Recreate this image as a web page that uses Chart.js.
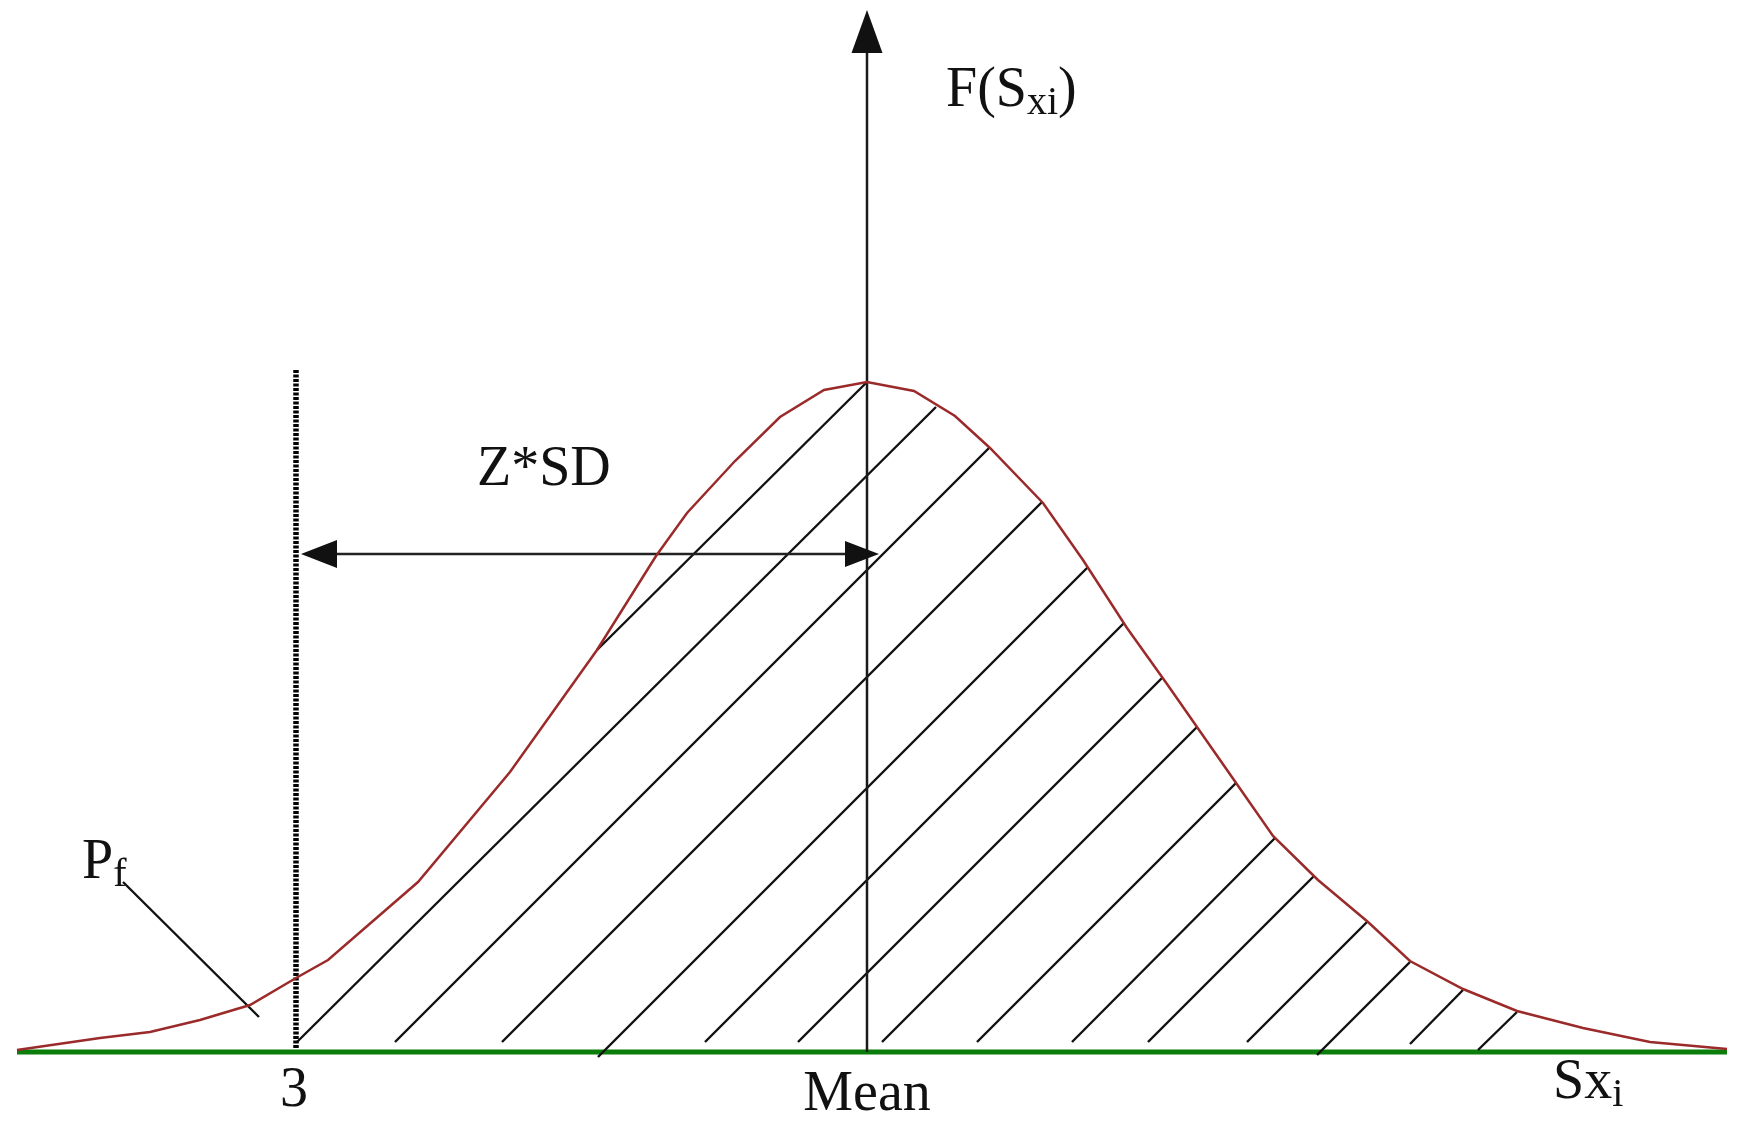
<!DOCTYPE html>
<html>
<head>
<meta charset="utf-8">
<script src="https://cdn.jsdelivr.net/npm/chart.js@4.4.1/dist/chart.umd.min.js"></script>
<style>
  html, body { margin: 0; padding: 0; background: #fff; }
</style>
</head>
<body>
<canvas id="pdfChart" width="1759" height="1131"></canvas>
<script>
// x is measured from the mean, y is height above the Sx axis (same units both ways)
const curveX = [-8.50, -7.67, -7.17, -6.67, -6.17, -5.71, -5.39, -4.49, -3.57, -2.70, -2.11, -1.80, -1.32, -0.87, -0.43, 0.00,
                0.47, 0.88, 1.23, 1.76, 2.16, 2.60, 3.00, 3.67, 4.06, 4.51, 5.01, 5.43, 5.96, 6.50, 7.16, 7.83, 8.60];
const curveY = [0.02, 0.14, 0.20, 0.32, 0.47, 0.74, 0.92, 1.70, 2.80, 4.02, 4.96, 5.39, 5.91, 6.35, 6.62, 6.70,
                6.61, 6.36, 6.04, 5.49, 4.92, 4.24, 3.68, 2.72, 2.16, 1.72, 1.30, 0.91, 0.63, 0.41, 0.24, 0.10, 0.03];

// hatch strokes: start (x0,y0) -> end on the curve (x1,y1)
const hatchX0 = [-2.70, -5.70, -4.72, -3.65, -2.69, -1.62, -0.69, 0.15, 1.10, 2.05, 2.81, 3.80, 4.50, 5.43, 6.11];
const hatchY0 = [4.02, 0.10, 0.10, 0.10, -0.05, 0.10, 0.10, 0.10, 0.10, 0.10, 0.10, 0.10, -0.03, 0.08, 0.02];
const hatchX1 = [0.00, 0.69, 1.22, 1.75, 2.21, 2.57, 2.95, 3.30, 3.69, 4.08, 4.47, 5.00, 5.43, 5.96, 6.50];
const hatchY1 = [6.70, 6.45, 6.04, 5.50, 4.85, 4.29, 3.74, 3.25, 2.69, 2.14, 1.76, 1.30, 0.90, 0.62, 0.40];

const xMin = -8.5, xMax = 8.6, yMax = 10.5;
const axisTop = 10.42;
const cutX = -5.71, cutTop = 6.82;
const spanY = 4.98, spanFrom = -5.66, spanTo = 0.12;
const leaderX = [-7.44, -6.08];
const leaderY = [1.70, 0.35];

const seg = (xs, ys) => xs.map((v, i) => ({ x: v, y: ys[i] }));

const arrowHeads = [
  { x: 0, y: axisTop, dir: 'up', len: 43, wid: 31 },
  { x: spanFrom, y: spanY, dir: 'left', len: 36, wid: 28 },
  { x: spanTo, y: spanY, dir: 'right', len: 34, wid: 26 }
];

const textLabels = [
  { x: 0.79, y: 9.46, align: 'left', parts: [['F(S'], ['xi', 1], [')']] },
  { x: -3.90, y: 5.67, align: 'left', parts: [['Z*SD']] },
  { x: -7.85, y: 1.74, align: 'left', parts: [['P'], ['f', 1]] },
  { x: -5.73, y: -0.54, align: 'center', parts: [['3']] },
  { x: 0.00, y: -0.58, align: 'center', parts: [['Mean']] },
  { x: 6.86, y: -0.46, align: 'left', parts: [['Sx'], ['i', 1]] }
];

const mainFont = '56px "Liberation Serif", "Times New Roman", serif';
const subFont = '40px "Liberation Serif", "Times New Roman", serif';

const drawExtras = {
  id: 'drawExtras',
  afterDatasetsDraw(chart) {
    const { ctx, scales: { x, y } } = chart;
    ctx.save();
    ctx.fillStyle = '#111';
    arrowHeads.forEach(a => {
      const ang = { up: -Math.PI / 2, left: Math.PI, right: 0 }[a.dir];
      ctx.save();
      ctx.translate(x.getPixelForValue(a.x), y.getPixelForValue(a.y));
      ctx.rotate(ang);
      ctx.beginPath();
      ctx.moveTo(0, 0);
      ctx.lineTo(-a.len, -a.wid / 2);
      ctx.lineTo(-a.len, a.wid / 2);
      ctx.closePath();
      ctx.fill();
      ctx.restore();
    });

    ctx.textBaseline = 'alphabetic';
    ctx.textAlign = 'left';
    textLabels.forEach(l => {
      let total = 0;
      l.parts.forEach(p => {
        ctx.font = p[1] ? subFont : mainFont;
        total += ctx.measureText(p[0]).width;
      });
      let px = x.getPixelForValue(l.x);
      const py = y.getPixelForValue(l.y);
      if (l.align === 'center') px -= total / 2;
      l.parts.forEach(p => {
        ctx.font = p[1] ? subFont : mainFont;
        ctx.fillText(p[0], px, py + (p[1] ? 8 : 0));
        px += ctx.measureText(p[0]).width;
      });
    });
    ctx.restore();
  }
};

const lineStyle = (color, width) => ({
  borderColor: color, borderWidth: width, pointRadius: 0, tension: 0, fill: false, clip: false
});

const datasets = [
  { ...lineStyle('#9b2a2a', 2.5), data: seg(curveX, curveY), order: 1 },
  { ...lineStyle('#1a1a1a', 2.5), data: seg([0, 0], [0, axisTop - 0.2]), order: 2 },
  { ...lineStyle('#222', 2.6), data: seg([spanFrom + 0.2, spanTo - 0.2], [spanY, spanY]), order: 2 },
  { ...lineStyle('#000', 5.5), borderDash: [3, 1.5], data: seg([cutX, cutX], [0.04, cutTop]), order: 2 },
  { ...lineStyle('#111', 2.4), data: seg(leaderX, leaderY), order: 2 },
  { ...lineStyle('#0a7d0a', 5), data: seg([xMin, xMax], [0, 0]), order: 9 }
];
hatchX0.forEach((v, i) => {
  datasets.push({ ...lineStyle('#111', 2.4), data: seg([v, hatchX1[i]], [hatchY0[i], hatchY1[i]]), order: 3 });
});

new Chart(document.getElementById('pdfChart'), {
  type: 'line',
  data: { datasets },
  options: {
    responsive: false,
    animation: false,
    events: [],
    layout: { padding: { left: 17, right: 32, top: 2, bottom: 79 } },
    scales: {
      x: { type: 'linear', min: xMin, max: xMax, display: false },
      y: { type: 'linear', min: 0, max: yMax, display: false }
    },
    plugins: { legend: { display: false }, tooltip: { enabled: false } }
  },
  plugins: [drawExtras]
});
</script>
</body>
</html>
